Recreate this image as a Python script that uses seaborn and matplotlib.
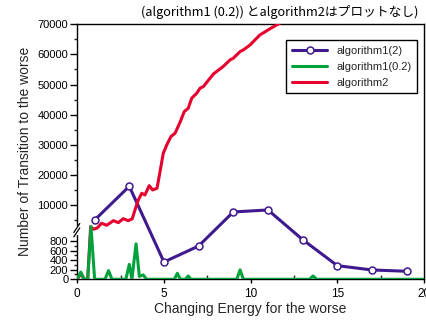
import numpy as np
import matplotlib
matplotlib.use("Agg")
import matplotlib.pyplot as plt
import seaborn as sns
from matplotlib.lines import Line2D
from matplotlib.ticker import FixedLocator, FixedFormatter, NullFormatter

# ---- data -------------------------------------------------------------
# algorithm1(2): sampled at odd energies
alg1_2_x = [1, 3, 5, 7, 9, 11, 13, 15, 17, 19]
alg1_2_y = [5000, 16200, 360, 695, 7680, 8340, 827, 284, 194, 167]

# algorithm1(0.2): mostly zero with isolated spikes
alg1_02_x = [0, 0.2, 0.4, 0.6, 0.79, 1.0, 1.6, 1.8, 2.0, 2.8, 3.0, 3.15,
             3.39, 3.58, 3.8, 4.0, 5.6, 5.77, 5.95, 6.25, 6.4, 6.55,
             9.2, 9.39, 9.58, 13.4, 13.6, 13.8, 20]
alg1_02_y = [0, 150, 0, 0, 2800, 0, 0, 180, 0, 0, 310, 0,
             740, 60, 90, 0, 0, 125, 0, 0, 70, 0,
             0, 195, 0, 0, 70, 0, 0]

# algorithm2
alg2_x = [0, 0.2, 0.4, 0.6, 0.77, 0.92, 1.15, 1.4, 1.7, 2.08, 2.37, 2.65,
          2.94, 3.17, 3.33, 3.52, 3.72, 3.9, 4.15, 4.35, 4.6, 4.77, 4.96,
          5.16, 5.4, 5.64, 5.93, 6.17, 6.4, 6.6, 6.89, 7.08, 7.27, 7.85,
          8.42, 8.81, 9.0, 9.39, 9.58, 9.97, 10.16, 10.54, 10.73, 11.1,
          11.7, 12.0]
alg2_y = [0, 120, 0, 0, 2800, 1910, 2360, 3920, 3250, 4790, 4130, 5450,
          4790, 5400, 8400, 11660, 13890, 13320, 16400, 14980, 15550, 21000,
          27180, 29930, 32700, 33820, 37500, 41000, 42140, 45450, 47110,
          48770, 49300, 53500, 56000, 58170, 58740, 60930, 61500, 63150,
          64300, 66500, 67140, 68470, 70460, 71200]

series_labels = ["algorithm1(2)", "algorithm1(0.2)", "algorithm2"]

x_ticks = [0, 5, 10, 15, 20]
y_major = [0, 200, 400, 600, 800, 10000, 20000, 30000, 40000, 50000, 60000, 70000]
y_minor = [100, 300, 500, 700, 5000, 15000, 25000, 35000, 45000, 55000, 65000]

title_text = "(algorithm1 (0.2)) とalgorithm2はプロットなし)"

# ---- broken y axis: piecewise linear scale ----------------------------
KV = np.array([0.0, 1000.0, 2000.0, 70000.0])
KP = np.array([0.0, 47.9, 50.2, 254.9])


def _pw(v, a, b):
    v = np.asarray(v, dtype=float)
    out = np.interp(v, a, b)
    s_lo = (b[1] - b[0]) / (a[1] - a[0])
    s_hi = (b[-1] - b[-2]) / (a[-1] - a[-2])
    out = np.where(v < a[0], b[0] + (v - a[0]) * s_lo, out)
    out = np.where(v > a[-1], b[-1] + (v - a[-1]) * s_hi, out)
    return out


def fwd(v):
    return _pw(v, KV, KP)


def inv(p):
    return _pw(p, KP, KV)


# ---- style -------------------------------------------------------------
sns.set_theme(style="ticks")
plt.rcParams["font.family"] = ["Liberation Sans", "Noto Sans CJK JP", "DejaVu Sans"]
plt.rcParams["axes.linewidth"] = 1.0

purple = "#3f1a8f"
green = "#00a23c"
red = "#e5002d"

fig = plt.figure(figsize=(4.27, 3.21), dpi=100)
ax = fig.add_axes([0.181, 0.130, 0.812, 0.7943])
ax.set_yscale("function", functions=(fwd, inv))

sns.lineplot(x=alg1_2_x, y=alg1_2_y, ax=ax, color=purple, lw=2.2,
             marker="o", markersize=5, markerfacecolor="white",
             markeredgecolor=purple, markeredgewidth=1.1,
             label=series_labels[0], errorbar=None, zorder=2)
sns.lineplot(x=alg1_02_x, y=alg1_02_y, ax=ax, color=green, lw=2.2,
             label=series_labels[1], errorbar=None, zorder=4)
sns.lineplot(x=alg2_x, y=alg2_y, ax=ax, color=red, lw=2.2,
             label=series_labels[2], errorbar=None, zorder=3)

ax.set_xlim(0, 20)
ax.set_ylim(0, 70000)

for s in ax.spines.values():
    s.set_visible(True)
    s.set_color("black")
    s.set_linewidth(1.0)

ax.xaxis.set_major_locator(FixedLocator(x_ticks))
ax.xaxis.set_major_formatter(FixedFormatter([str(t) for t in x_ticks]))
ax.xaxis.set_minor_locator(FixedLocator([2.5, 7.5, 12.5, 17.5]))
ax.tick_params(axis="x", which="major", direction="out", length=3, width=1,
               labelsize=8.5, pad=3, colors="black")
ax.tick_params(axis="x", which="minor", direction="in", length=3, width=1)

ax.yaxis.set_major_locator(FixedLocator(y_major))
ax.yaxis.set_major_formatter(FixedFormatter([str(t) for t in y_major]))
ax.yaxis.set_minor_locator(FixedLocator(y_minor))
ax.yaxis.set_minor_formatter(NullFormatter())
ax.tick_params(axis="y", which="major", direction="out", length=5, width=1,
               labelsize=8, pad=1.5, colors="black")
ax.tick_params(axis="y", which="minor", direction="out", length=2.5, width=1)

ax.set_xlabel("Changing Energy for the worse", fontsize=10, labelpad=2)
ax.set_ylabel("Number of Transition to the worse", fontsize=10, labelpad=4)

# break marks on the left spine
yb = float(fwd(1500)) / KP[-1]
px_x = 1.0 / (0.812 * 427)
px_y = 1.0 / (0.7943 * 321)
ax.add_line(Line2D([0, 0], [yb - 3 * px_y, yb + 3 * px_y], transform=ax.transAxes,
                   color="white", lw=2.5, clip_on=False, zorder=6))
for dy in (-2.2, 2.2):
    ax.add_line(Line2D([-3.5 * px_x, 2.5 * px_x],
                       [yb + (dy - 4.5) * px_y, yb + (dy + 4.5) * px_y],
                       transform=ax.transAxes, color="black", lw=0.9,
                       clip_on=False, zorder=7))

leg = ax.legend(loc="upper right", bbox_to_anchor=(0.98, 0.938),
                borderaxespad=0, fontsize=8, frameon=True, fancybox=False,
                edgecolor="black", framealpha=1, handlelength=3.2,
                labelspacing=0.55, borderpad=0.5, handletextpad=0.8)
leg.get_frame().set_linewidth(1.0)

fig.text(0.979, 0.962, title_text, ha="right", va="center", fontsize=9.2,
         family=["Noto Sans CJK JP", "DejaVu Sans"], color="black")

fig.savefig("out.png", dpi=100)
